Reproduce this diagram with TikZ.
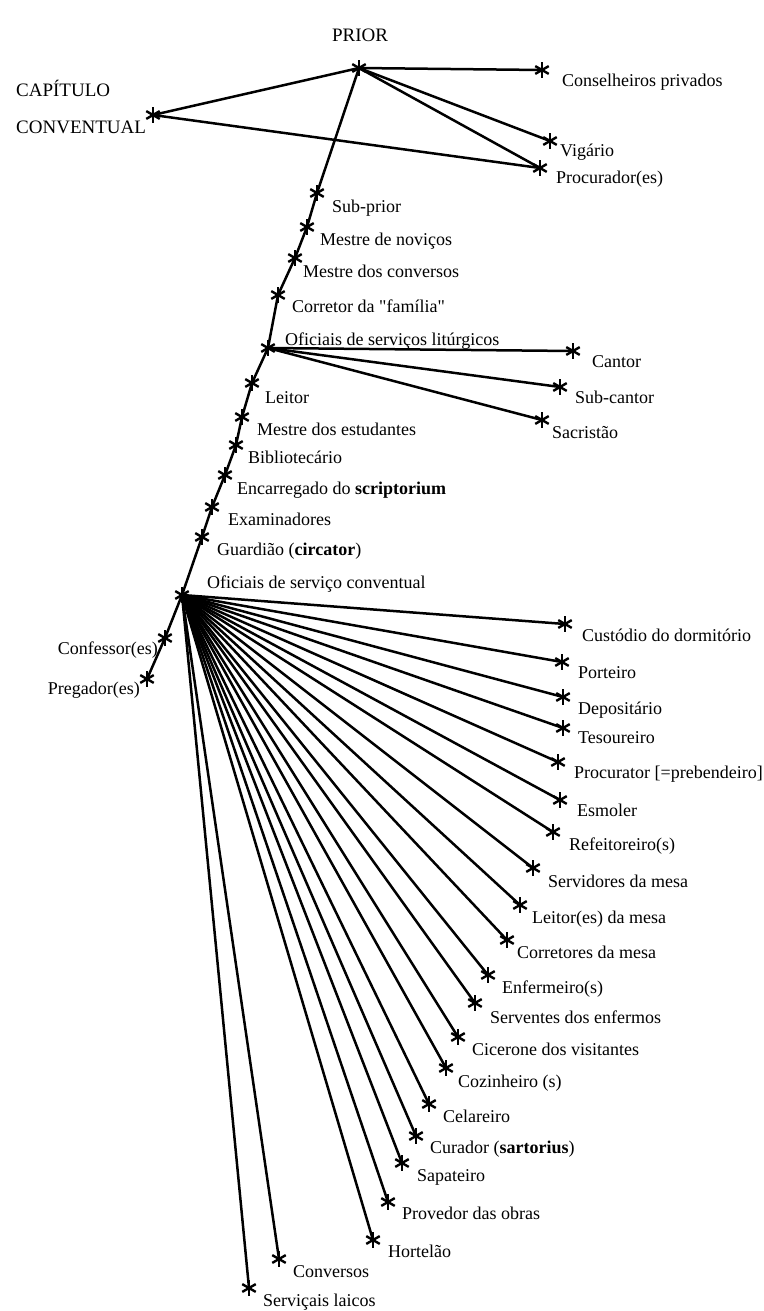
\documentclass[tikz,border=0pt]{standalone}
\usepackage{fontspec}
\setmainfont{Liberation Serif}
\newfontfamily\lserif{Liberation Serif}
\usetikzlibrary{calc}
\begin{document}
\begin{tikzpicture}[x=1pt,y=-1pt,
  ast/.style={circle, inner sep=0pt, minimum size=18pt,
    path picture={\foreach \a in {90,30,150}
      \draw[line width=2.4pt] ([shift={(\a:7.8pt)}]path picture bounding box.center) -- ([shift={(\a+180:7.8pt)}]path picture bounding box.center);}},
  lbl/.style={inner sep=0pt, anchor=base west, font=\lserif\fontsize{18}{20}\selectfont},
  lblr/.style={lbl, anchor=base east},
  ttl/.style={inner sep=0pt, font=\lserif\fontsize{19}{21}\selectfont},
  con/.style={line width=2.5pt}]
\fill[white] (0,0) rectangle (763,1311);
\useasboundingbox (0,0) rectangle (763,1311);

% stars
\node[ast] (prior) at (359,68) {};
\node[ast] (cap) at (153,115) {};
\node[ast] (cons) at (542,70) {};
\node[ast] (vig) at (550,141) {};
\node[ast] (procs) at (540,168) {};
\node[ast] (subprior) at (317,193) {};
\node[ast] (novicos) at (307,227) {};
\node[ast] (mconv) at (295,258) {};
\node[ast] (corretor) at (278,295) {};
\node[ast] (oficlit) at (268,348) {};
\node[ast] (cantor) at (573,351) {};
\node[ast] (subcantor) at (560,387) {};
\node[ast] (sacristao) at (542,420) {};
\node[ast] (leitor) at (252,383) {};
\node[ast] (mestreest) at (242,417) {};
\node[ast] (biblio) at (236,445) {};
\node[ast] (encarr) at (225,475) {};
\node[ast] (exam) at (212,507) {};
\node[ast] (guard) at (202,537) {};
\node[ast] (oficserv) at (182,595) {};
\node[ast] (confessor) at (165,638) {};
\node[ast] (pregador) at (147,679) {};
\node[ast] (custodio) at (565,624) {};
\node[ast] (porteiro) at (562,662) {};
\node[ast] (depositario) at (563,697) {};
\node[ast] (tesoureiro) at (563,728) {};
\node[ast] (procurator) at (558,762) {};
\node[ast] (esmoler) at (560,800) {};
\node[ast] (refeit) at (553,832) {};
\node[ast] (servidores) at (533,868) {};
\node[ast] (leitormesa) at (520,905) {};
\node[ast] (corretores) at (507,940) {};
\node[ast] (enfermeiro) at (488,975) {};
\node[ast] (serventes) at (475,1003) {};
\node[ast] (cicerone) at (458,1037) {};
\node[ast] (cozinheiro) at (446,1068) {};
\node[ast] (celareiro) at (429,1104) {};
\node[ast] (curador) at (416,1136) {};
\node[ast] (sapateiro) at (402,1163) {};
\node[ast] (provedor) at (388,1202) {};
\node[ast] (hortelao) at (373,1240) {};
\node[ast] (conversos) at (279,1259) {};
\node[ast] (servicais) at (249,1288) {};

% labels
\node[ttl] (l-prior) at (360,35) {PRIOR};
\node[ttl, anchor=base west] (l-cap1) at (16,97) {CAPÍTULO};
\node[ttl, anchor=base west] (l-cap2) at (16,133) {CONVENTUAL};
\node[lbl] (l-cons) at (562,87) {Conselheiros privados};
\node[lbl] (l-vig) at (560,156) {Vigário};
\node[lbl] (l-procs) at (556,183) {Procurador(es)};
\node[lbl] (l-subprior) at (332,212) {Sub-prior};
\node[lbl] (l-novicos) at (320,245) {Mestre de noviços};
\node[lbl] (l-mconv) at (303,277) {Mestre dos conversos};
\node[lbl] (l-corretor) at (292,312) {Corretor da "família"};
\node[lbl] (l-oficlit) at (285,345) {Oficiais de serviços litúrgicos};
\node[lbl] (l-cantor) at (592,367) {Cantor};
\node[lbl] (l-subcantor) at (575,403) {Sub-cantor};
\node[lbl] (l-sacristao) at (552,438) {Sacristão};
\node[lbl] (l-leitor) at (265,403) {Leitor};
\node[lbl] (l-mestreest) at (257,435) {Mestre dos estudantes};
\node[lbl] (l-biblio) at (248,463) {Bibliotecário};
\node[lbl] (l-encarr) at (237,494) {Encarregado do \textbf{scriptorium}};
\node[lbl] (l-exam) at (228,525) {Examinadores};
\node[lbl] (l-guard) at (217,555) {Guardião (\textbf{circator})};
\node[lbl] (l-oficserv) at (207,588) {Oficiais de serviço conventual};
\node[lblr] (l-confessor) at (158,654) {Confessor(es)};
\node[lblr] (l-pregador) at (140,694) {Pregador(es)};
\node[lbl] (l-custodio) at (582,641) {Custódio do dormitório};
\node[lbl] (l-porteiro) at (578,678) {Porteiro};
\node[lbl] (l-depositario) at (578,714) {Depositário};
\node[lbl] (l-tesoureiro) at (578,743) {Tesoureiro};
\node[lbl] (l-procurator) at (574,778) {Procurator [=prebendeiro]};
\node[lbl] (l-esmoler) at (577,816) {Esmoler};
\node[lbl] (l-refeit) at (569,850) {Refeitoreiro(s)};
\node[lbl] (l-servidores) at (548,887) {Servidores da mesa};
\node[lbl] (l-leitormesa) at (532,923) {Leitor(es) da mesa};
\node[lbl] (l-corretores) at (517,958) {Corretores da mesa};
\node[lbl] (l-enfermeiro) at (502,993) {Enfermeiro(s)};
\node[lbl] (l-serventes) at (490,1023) {Serventes dos enfermos};
\node[lbl] (l-cicerone) at (472,1055) {Cicerone dos visitantes};
\node[lbl] (l-cozinheiro) at (458,1087) {Cozinheiro (s)};
\node[lbl] (l-celareiro) at (443,1122) {Celareiro};
\node[lbl] (l-curador) at (430,1153) {Curador (\textbf{sartorius})};
\node[lbl] (l-sapateiro) at (417,1181) {Sapateiro};
\node[lbl] (l-provedor) at (402,1219) {Provedor das obras};
\node[lbl] (l-hortelao) at (388,1257) {Hortelão};
\node[lbl] (l-conversos) at (293,1277) {Conversos};
\node[lbl] (l-servicais) at (263,1306) {Serviçais laicos};

% connectors
\draw[con] (cap.center) -- (prior.center);
\draw[con] (cap.center) -- (procs.center);
\foreach \t in {cons,vig,procs}
  \draw[con] (prior.center) -- (\t.center);
\draw[con, line join=round] (prior.center) -- (subprior.center) -- (novicos.center) -- (mconv.center)
  -- (corretor.center) -- (oficlit.center) -- (leitor.center) -- (mestreest.center)
  -- (biblio.center) -- (encarr.center) -- (exam.center) -- (guard.center)
  -- (oficserv.center) -- (confessor.center) -- (pregador.center);
\foreach \t in {cantor,subcantor,sacristao}
  \draw[con] (oficlit.center) -- (\t.center);
\foreach \t in {custodio,porteiro,depositario,tesoureiro,procurator,esmoler,refeit,
  servidores,leitormesa,corretores,enfermeiro,serventes,cicerone,cozinheiro,
  celareiro,curador,sapateiro,provedor,hortelao,conversos,servicais}
  \draw[con] (oficserv.center) -- (\t.center);
\end{tikzpicture}
\end{document}
